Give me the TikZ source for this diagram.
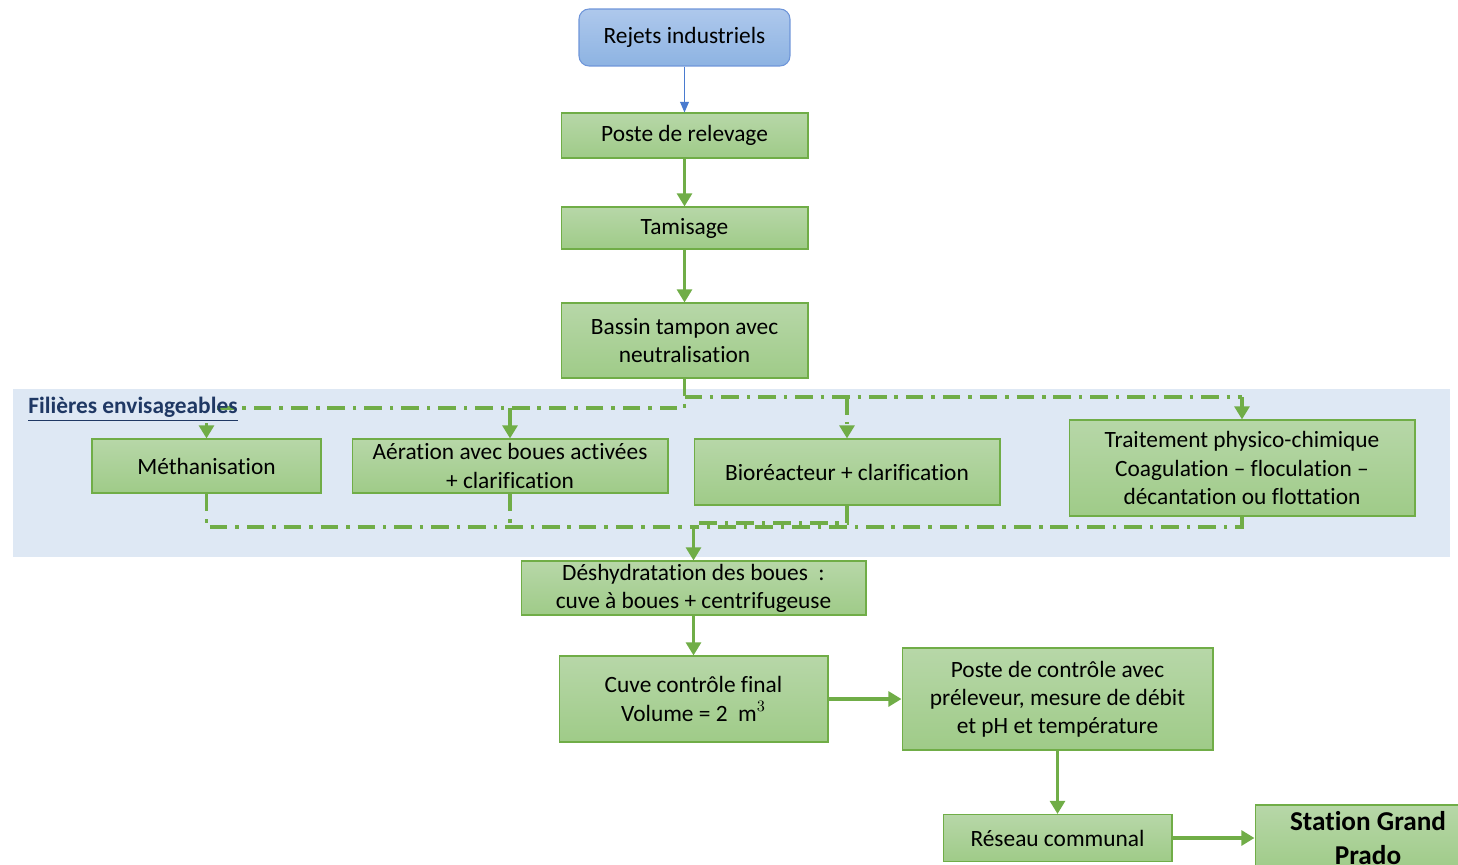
\documentclass[tikz,border=0pt]{standalone}
\usepackage{fontspec}
\setmainfont{Carlito}[Ligatures=NoCommon]
\usepackage{xcolor}
\usetikzlibrary{arrows.meta,positioning,calc}
\definecolor{greenline}{HTML}{70AD47}
\definecolor{greentop}{HTML}{B7D7A8}
\definecolor{greenbot}{HTML}{9FCB88}
\definecolor{bluetop}{HTML}{AEC8EC}
\definecolor{bluebot}{HTML}{8DB3E2}
\definecolor{blueline}{HTML}{4A7BCF}
\definecolor{bandblue}{HTML}{DEE8F4}
\definecolor{titlenavy}{HTML}{1F3864}

\begin{document}
\begin{tikzpicture}[x=0.02cm,y=-0.02cm,
    box/.style={draw=greenline, line width=0.6pt, top color=greentop, bottom color=greenbot,
        align=center, inner sep=0pt, font=\fontsize{13.3}{16}\selectfont},
    flow/.style={draw=greenline, line width=2pt, -{Triangle[length=7.5pt,width=8.5pt]}},
    ddot/.style={draw=greenline, line width=2.2pt, dash pattern=on 10pt off 4.5pt on 2pt off 4.5pt},
    feed/.style={draw=blueline, line width=0.6pt, -{Triangle[length=6pt,width=5pt]}}]
    \useasboundingbox (0,0) rectangle (1458,865);

    % Band of possible treatments
    \fill[bandblue] (13,389) rectangle (1450,557);

    % Main line
    \node[box, rounded corners=0.2cm, draw=blueline!80, top color=bluetop, bottom color=bluebot,
          minimum width=4.22cm, minimum height=1.14cm] (rej) at (684.5,37.5) {Rejets industriels};
    \node[box, minimum width=4.94cm, minimum height=0.9cm] (post) at (684.5,135.5) {Poste de relevage};
    \node[box, minimum width=4.94cm, minimum height=0.84cm] (tam) at (684.5,228) {Tamisage};
    \node[box, minimum width=4.94cm, minimum height=1.5cm] (bas) at (684.5,340.5) {Bassin tampon avec\\neutralisation};

    % Treatment options
    \node[box, minimum width=4.58cm, minimum height=1.08cm] (meth) at (206.5,466) {Méthanisation};
    \node[box, minimum width=6.32cm, minimum height=1.08cm] (aer) at (510,466) {Aération avec boues activées\\+ clarification};
    \node[box, minimum width=6.12cm, minimum height=1.32cm] (bio) at (847,472) {Bioréacteur + clarification};
    \node[box, minimum width=6.92cm, minimum height=1.92cm] (trait) at (1242,468) {Traitement physico-chimique\\Coagulation -- floculation --\\décantation ou flottation};

    % Downstream
    \node[box, minimum width=6.9cm, minimum height=1.08cm] (desh) at (693.5,588) {Déshydratation des boues\ \ :\\cuve à boues + centrifugeuse};
    \node[box, minimum width=5.38cm, minimum height=1.72cm] (cuve) at (693.5,699) {Cuve contrôle final\\Volume = 2\ \ m$^3$};
    \node[box, minimum width=6.22cm, minimum height=2.04cm] (pctl) at (1057.5,699) {Poste de contrôle avec\\préleveur, mesure de débit\\et pH et température};
    \node[box, minimum width=4.58cm, minimum height=0.94cm] (res) at (1057.5,838) {Réseau communal};
    \node[box, minimum width=4.52cm, minimum height=1.32cm, font=\fontsize{15.5}{19}\selectfont\bfseries] (stat) at (1368,838) {Station Grand\\Prado};

    % Coordinates of the dash-dot lines
    \coordinate (topL) at (206.5,408);
    \coordinate (topR) at (1242,397);
    \coordinate (merge) at (693.5,527);

    % Feed of the options
    \draw[feed] (rej) -- (post);
    \draw[flow] (post) -- (tam);
    \draw[flow] (tam) -- (bas);
    \draw[ddot] (bas.south) -- (bas.south |- topL) -- (topL);
    \draw[ddot] (bas.south |- topR) -- (topR);
    \draw[flow] (206.5,423) -- (meth.north);
    \draw[flow] (aer.north |- topL) -- (aer.north);
    \draw[ddot] (bio.north |- topR) -- (847,424);
    \draw[flow] (847,426) -- (bio.north);
    \draw[flow] (topR) -- (trait.north);

    % Collection of the options
    \draw[ddot] (meth.south) |- (merge);
    \draw[ddot] (aer.south) -- (aer.south |- merge);
    \draw[ddot] (bio.south) -- (847,523) -| (merge);
    \draw[ddot] (trait.south) |- (merge);
    \draw[flow] (merge) -- (desh.north);

    % Final line
    \draw[flow] (desh) -- (cuve);
    \draw[flow] (cuve) -- (pctl);
    \draw[flow] (pctl) -- (res);
    \draw[flow] (res) -- (stat);

    \node[text=titlenavy, font=\fontsize{13.3}{16}\selectfont\bfseries, anchor=west, inner sep=0pt] (fil) at (28,409) {\underline{Filières envisageables}};
\end{tikzpicture}
\end{document}
